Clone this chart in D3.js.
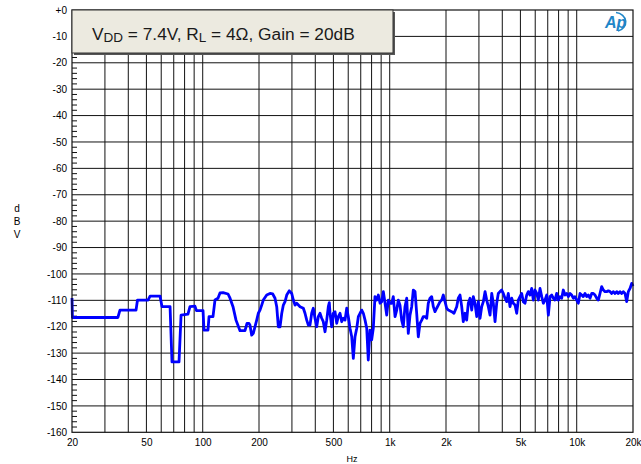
<!DOCTYPE html>
<html><head><meta charset="utf-8">
<script src="https://cdn.jsdelivr.net/npm/d3@7"></script>
<style>body{margin:0;background:#fff}svg{display:block}text{font-family:"Liberation Sans",Arial,sans-serif}</style>
</head><body>
<svg id="c" width="641" height="464"></svg>
<script>
const freqs = [20,20.1,35.2,36.1,44.0,44.8,51.0,52.3,59.1,60.6,66.9,68.5,74.7,76.6,83.4,85.5,90.9,92.6,100.4,101.6,106.7,108.1,113.5,116.3,120.7,123.7,128.4,136.6,140.0,145.2,150.7,158.3,168.3,172.5,176.8,
179.0,182.8,186.4,190.4,194.4,198.3,202.5,206.8,210.9,219.9,229.0,236.8,243.6,248.8,253.7,259.1,264.7,269.9,275.6,281.4,290.5,299.3,305.2,311.7,318.3,331.5,345.3,352.4,360.0,367.2,374.7,382.7,390.3,398.5,407.0,415.0,423.8,432.8,441.4,450.8,460.4,469.6,475.3,479.5,489.7,499.4,509.9,520.8,531.1,542.3,553.8,564.8,576.8,589.0,600.7,613.4,626.5,638.9,652.4,666.3,679.6,694.0,708.7,722.8,738.1,753.7,768.1,784.4,801.0,816.9,834.2,851.8,869.5,887.9,906.7,924.7,944.3,963.8,982.9,1004,1025,1045,1068,1090,1112,1135,1159,1182,1207,1233,1257,1284,1311,1337,1366,1394,1422,1452,1483,1512,1545,1577,1608,1642,1677,1711,1747,1783,1819,1858,1897,1935,1976,2017,2058,
2145,2207,2282,2326,2376,2427,2474,2528,2580,2632,2689,2745,2800,2858,2920,2978,3041,3105,3167,3234,3302,3368,3440,3513,3582,3658,3734,3808,3888,3970,4050,4135,4223,4307,4398,4491,4580,4679,4777,4873,4975,5080,5182,5291,5403,5510,5627,5746,5861,5985,6112,6234,6365,6500,6631,6771,6915,7052,7203,7354,7500,7654,7815,7970,8139,8312,8477,8663,8846,9022,9213,9403,9590,9793,10000,10199,10415,10635,10846,11077,11310,11540,11780,12030,12270,12530,12790,13050,13320,13600,13880,14170,14470,14760,15070,15390,15690,16030,16370,16690,17040,17400,17750,18130,18510,18880,19280,19680,20000];
const levels = [-109.1,-116.5,-116.5,-113.7,-113.7,-109.9,-109.9,-108.4,-108.4,-112.4,-112.4,-133.3,-133.3,-115.6,-115.2,-112.4,-112.2,-113.9,-113.9,-121.3,-121.3,-116.2,-116.2,-109.9,-109.2,-107.2,-107.1,-107.6,-109.2,-112.4,-117.5,-121.5,-121.5,-118.7,-118.7,
-119.4,-123.2,-122.5,-120.0,-117.5,-114.9,-113.7,-111.8,-109.9,-108.0,-107.4,-107.6,-109.2,-112.4,-120.0,-120.0,-114.9,-111.8,-110.5,-108.0,-106.4,-107.4,-109.9,-111.8,-111.1,-112.4,-113.0,-114.9,-117.5,-119.4,-119.4,-114.9,-113.0,-116.8,-120.0,-116.2,-114.9,-116.8,-118.1,-121.9,-117.5,-112.4,-110.9,-114.9,-120.0,-114.9,-114.3,-118.7,-116.2,-114.9,-118.1,-116.8,-117.5,-113.0,-116.2,-120.6,-123.8,-132.0,-123.8,-120.6,-116.2,-114.9,-113.7,-114.9,-117.5,-120.6,-132.6,-121.3,-125.0,-120.6,-108.6,-109.9,-108.0,-111.1,-110.5,-106.7,-111.1,-115.6,-109.9,-111.1,-111.1,-108.6,-116.2,-113.7,-109.9,-111.8,-117.5,-120.0,-112.4,-109.2,-122.5,-115.6,-112.4,-106.1,-106.7,-114.9,-123.8,-118.7,-117.5,-116.2,-116.2,-116.8,-111.1,-109.2,-108.6,-112.4,-114.3,-113.0,-111.8,-110.5,-109.9,-108.0,-110.5,-113.0,-113.7,
-114.3,-114.9,-112.4,-109.2,-108.0,-112.4,-118.1,-114.9,-117.5,-111.1,-109.2,-113.7,-108.6,-111.1,-116.2,-110.5,-116.8,-112.4,-110.5,-106.7,-109.9,-112.4,-115.6,-107.4,-111.1,-118.1,-111.1,-107.4,-106.7,-106.1,-107.4,-109.2,-110.5,-107.4,-112.4,-109.2,-111.1,-111.8,-114.9,-109.9,-108.6,-107.4,-110.5,-111.1,-108.0,-106.7,-108.0,-105.5,-109.9,-106.1,-107.4,-109.9,-105.5,-108.6,-111.1,-109.9,-108.0,-115.6,-108.6,-108.0,-109.2,-109.9,-107.4,-109.9,-108.6,-109.2,-106.1,-108.0,-107.4,-108.6,-107.4,-108.0,-109.2,-108.6,-109.9,-111.1,-107.4,-108.0,-108.6,-107.4,-108.6,-108.0,-109.2,-107.4,-107.4,-108.0,-109.2,-109.9,-107.4,-104.8,-106.1,-106.7,-106.7,-106.4,-106.7,-107.4,-106.7,-107.4,-106.7,-107.4,-106.7,-107.4,-106.7,-107.4,-110.5,-106.7,-105.5,-103.6,-104.6];

const yTicks = [0,-10,-20,-30,-40,-50,-60,-70,-80,-90,-100,-110,-120,-130,-140,-150,-160];
const yMinor = d3.range(-160, 0, 2);
const xTickVals = [20,50,100,200,500,1000,2000,5000,10000,20000];
const xTickLabels = ["20","50","100","200","500","1k","2k","5k","10k","20k"];
const xGrid = [30,40,50,60,70,80,90,100,200,300,400,500,600,700,800,900,1000,2000,3000,4000,5000,6000,7000,8000,9000,10000];

const L = 72, R = 633, T = 10, B = 432.3;
const svg = d3.select("#c");
const x = d3.scaleLog().domain([20, 20000]).range([L, R]);
const y = d3.scaleLinear().domain([-160, 0]).range([B, T]);

const g = svg.append("g");
g.selectAll(".vg").data(xGrid).enter().append("line")
  .attr("x1", d => x(d)).attr("x2", d => x(d)).attr("y1", T).attr("y2", B)
  .attr("stroke", "#111").attr("stroke-width", 1);
g.selectAll(".hg").data(yTicks.slice(1, -1)).enter().append("line")
  .attr("x1", L).attr("x2", R).attr("y1", d => y(d)).attr("y2", d => y(d))
  .attr("stroke", "#111").attr("stroke-width", 1);
g.selectAll(".mt").data(yMinor.filter(d => d % 10 !== 0)).enter().append("line")
  .attr("x1", L).attr("x2", L + 5).attr("y1", d => y(d)).attr("y2", d => y(d))
  .attr("stroke", "#111").attr("stroke-width", 1);

const line = d3.line().x((d, i) => x(freqs[i])).y(d => y(d));
g.append("path").datum(levels).attr("d", line)
  .attr("fill", "none").attr("stroke", "#0000ff").attr("stroke-width", 2.8)
  .attr("stroke-linejoin", "round");

g.append("rect").attr("x", L).attr("y", T).attr("width", R - L).attr("height", B - T)
  .attr("fill", "none").attr("stroke", "#111").attr("stroke-width", 1.2);

const yAxis = d3.axisLeft(y).tickValues(yTicks).tickSize(0).tickPadding(5)
  .tickFormat(d => d === 0 ? "+0" : String(d));
const ya = svg.append("g").attr("transform", `translate(${L},0)`).call(yAxis);
ya.select(".domain").remove();
ya.selectAll("text").attr("font-size", 10).attr("fill", "#000").attr("font-family", "Liberation Sans, Arial, sans-serif");

const xAxis = d3.axisBottom(x).tickValues(xTickVals).tickSize(0).tickPadding(7)
  .tickFormat((d, i) => xTickLabels[i]);
const xa = svg.append("g").attr("transform", `translate(0,${B})`).call(xAxis);
xa.select(".domain").remove();
xa.selectAll("text").attr("font-size", 10).attr("fill", "#000").attr("font-family", "Liberation Sans, Arial, sans-serif");

svg.append("text").attr("x", 352).attr("y", 462).attr("text-anchor", "middle")
  .attr("font-size", 9).text("Hz");
["d", "B", "V"].forEach((c, i) => {
  svg.append("text").attr("x", 17).attr("y", 212 + i * 13).attr("text-anchor", "middle")
    .attr("font-size", 10).text(c);
});

svg.append("rect").attr("x", L + 2).attr("y", T + 2).attr("width", 321).attr("height", 43)
  .attr("fill", "#555");
svg.append("rect").attr("x", L).attr("y", T).attr("width", 321).attr("height", 43)
  .attr("fill", "#ECEAE0").attr("stroke", "#333").attr("stroke-width", 1);
const lt = svg.append("text").attr("x", 92).attr("y", 39.5).attr("font-size", 17.3).attr("fill", "#1a1a1a");
lt.append("tspan").text("V");
lt.append("tspan").attr("font-size", 13.5).attr("dy", 2.5).text("DD");
lt.append("tspan").attr("dy", -2.5).text(" = 7.4V, R");
lt.append("tspan").attr("font-size", 13.5).attr("dy", 2.5).text("L");
lt.append("tspan").attr("dy", -2.5).text(" = 4Ω, Gain = 20dB");

svg.append("path").attr("d", "M 616 12.5 A 11 9.5 0 0 1 618 31").attr("fill", "none")
  .attr("stroke", "#1f86c8").attr("stroke-width", 1.6);
svg.append("text").attr("x", 605).attr("y", 28).attr("font-size", 16).attr("font-style", "italic")
  .attr("font-weight", "bold").attr("fill", "#1f86c8").text("Ap");
</script>
</body></html>
